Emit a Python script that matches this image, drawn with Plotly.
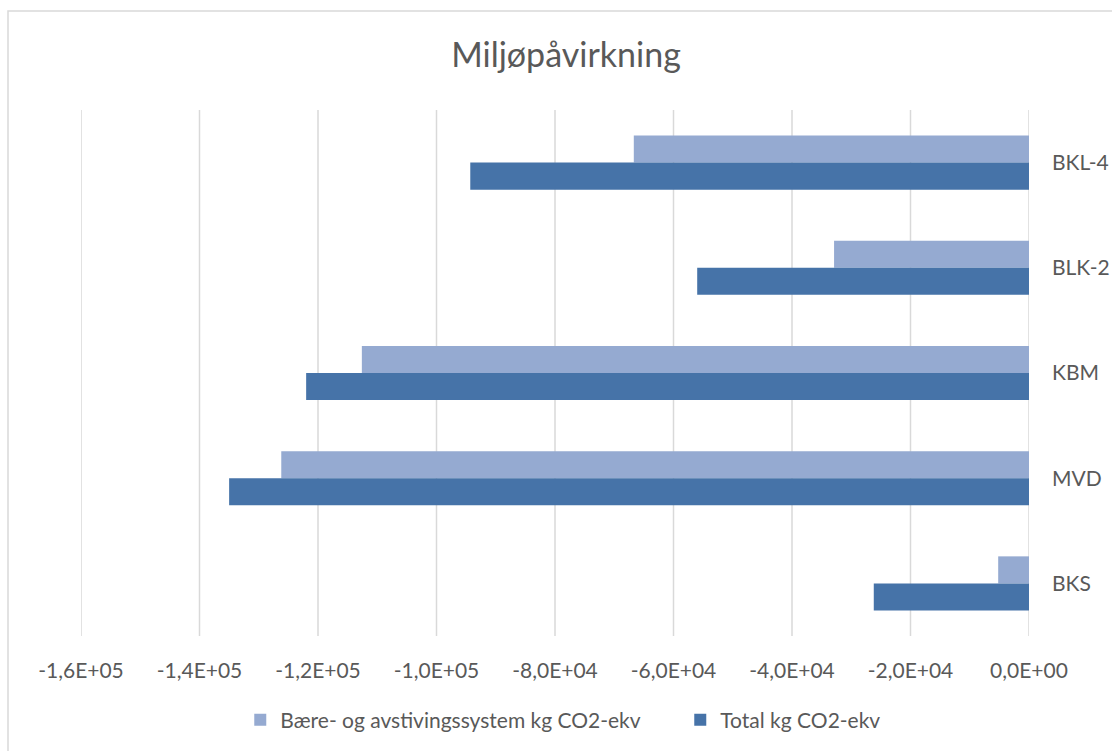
import plotly.graph_objects as go

categories = ["BKL-4", "BLK-2", "KBM", "MVD", "BKS"]
baere = [-66700, -32900, -112600, -126200, -5200]
total = [-94300, -56000, -122000, -135000, -26200]
tick_vals = [-160000, -140000, -120000, -100000, -80000, -60000, -40000, -20000, 0]
tick_text = ["-1,6E+05", "-1,4E+05", "-1,2E+05", "-1,0E+05", "-8,0E+04",
             "-6,0E+04", "-4,0E+04", "-2,0E+04", "0,0E+00"]

FONT = "Lato, 'Liberation Sans', sans-serif"
GREY = "#595959"
GRID = "#d9d9d9"

fig = go.Figure()
fig.add_trace(go.Bar(y=categories, x=baere, orientation="h",
                     name="Bære- og avstivingssystem kg CO2-ekv",
                     marker=dict(color="#95aad1", line=dict(width=0))))
fig.add_trace(go.Bar(y=categories, x=total, orientation="h",
                     name="Total kg CO2-ekv",
                     marker=dict(color="#4673a8", line=dict(width=0))))

shapes = [dict(type="line", xref="x", yref="paper", x0=v, x1=v, y0=0, y1=1,
               line=dict(color=GRID, width=1.5), layer="below") for v in tick_vals]
shapes.append(dict(type="rect", xref="paper", yref="paper",
                   x0=-73 / 948, x1=1.5, y0=-0.5, y1=1 + 99 / 526,
                   line=dict(color=GRID, width=1.5), fillcolor="rgba(0,0,0,0)",
                   layer="below"))

fig.update_layout(
    width=1112, height=751,
    margin=dict(l=81, r=83, t=110, b=115, autoexpand=False),
    paper_bgcolor="white", plot_bgcolor="white",
    barmode="group", bargap=0.486, bargroupgap=0,
    font=dict(family=FONT, color=GREY, size=20),
    title=dict(text="Miljøpåvirkning", x=0.509, xanchor="center",
               y=1 - 55 / 751, yanchor="middle",
               font=dict(size=34, color=GREY, family=FONT)),
    legend=dict(orientation="h", x=0.168, xanchor="left", y=-0.16, yanchor="middle",
                font=dict(size=21, color=GREY), traceorder="normal",
                itemwidth=30, entrywidth=395),
    showlegend=True,
    xaxis=dict(range=[-160000, 0], tickvals=tick_vals, ticktext=tick_text,
               showgrid=False, zeroline=False, showline=False, ticks="",
               automargin=False,
               ticklabelstandoff=20, tickfont=dict(size=21, color=GREY)),
    yaxis=dict(side="right", autorange="reversed", showgrid=False, zeroline=False,
               showline=False, ticks="", ticklabelstandoff=22, automargin=False,
               tickfont=dict(size=21, color=GREY)),
    shapes=shapes,
)

fig.write_html("out.html")
